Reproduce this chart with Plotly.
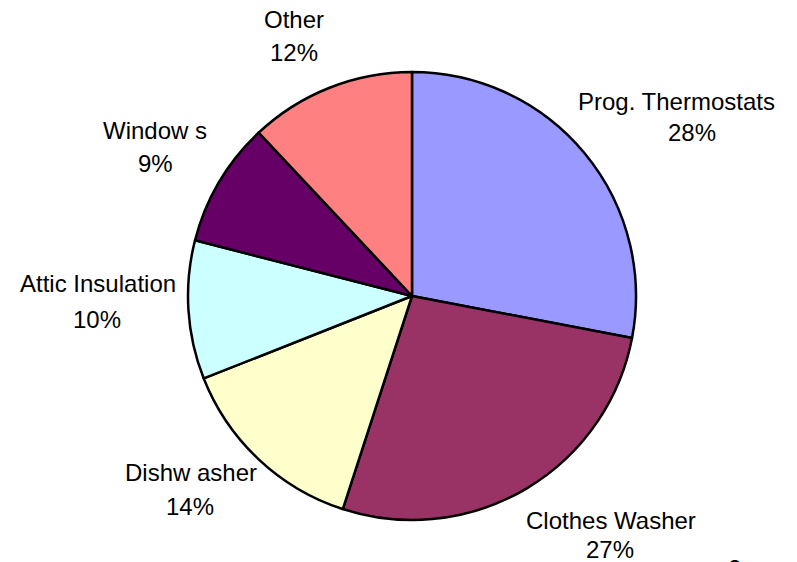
import plotly.graph_objects as go

# Share of program savings by measure
categories = ["Prog. Thermostats", "Clothes Washer", "Dishw asher",
              "Attic Insulation", "Window s", "Other"]
shares = [28, 27, 14, 10, 9, 12]
slice_colors = ["#9999FF", "#993366", "#FFFFCC", "#CCFFFF", "#660066", "#FF8080"]

W, H = 797, 562
cx, cy, r = 412, 296, 224  # pie centre and radius in pixels

# label placement (pixels from top-left): name x, name y, percent x, percent y
label_pos = [
    (676, 101, 692, 132),
    (611, 520, 610, 549),
    (191, 472, 190, 506),
    (98, 284, 97, 319),
    (155, 130, 155, 164),
    (294, 20, 294, 52),
]

FONT = dict(family="Liberation Sans, Arial, sans-serif", size=24, color="black")

fig = go.Figure(
    go.Pie(
        labels=categories,
        values=shares,
        sort=False,
        direction="clockwise",
        rotation=0,
        marker=dict(colors=slice_colors, line=dict(color="black", width=2.5)),
        textinfo="none",
        showlegend=False,
        hoverinfo="label+percent",
        domain=dict(
            x=[(cx - r) / W, (cx + r) / W],
            y=[(H - cy - r) / H, (H - cy + r) / H],
        ),
    )
)

total = sum(shares)
for name, val, (nx, ny, px, py) in zip(categories, shares, label_pos):
    pct = f"{round(100 * val / total)}%"
    for txt, x, y in ((name, nx, ny), (pct, px, py)):
        fig.add_annotation(
            text=txt, x=x / W, y=(H - y) / H, xref="paper", yref="paper",
            xanchor="center", yanchor="middle", showarrow=False, font=FONT,
        )

# page number peeking in at the bottom edge
fig.add_annotation(
    text="2", x=734 / W, y=9 / H, xref="paper", yref="paper",
    xanchor="center", yanchor="top", showarrow=False, font=FONT,
)

fig.update_layout(
    width=W, height=H,
    margin=dict(l=0, r=0, t=0, b=0),
    paper_bgcolor="white", plot_bgcolor="white",
)

fig.write_html("out.html")
